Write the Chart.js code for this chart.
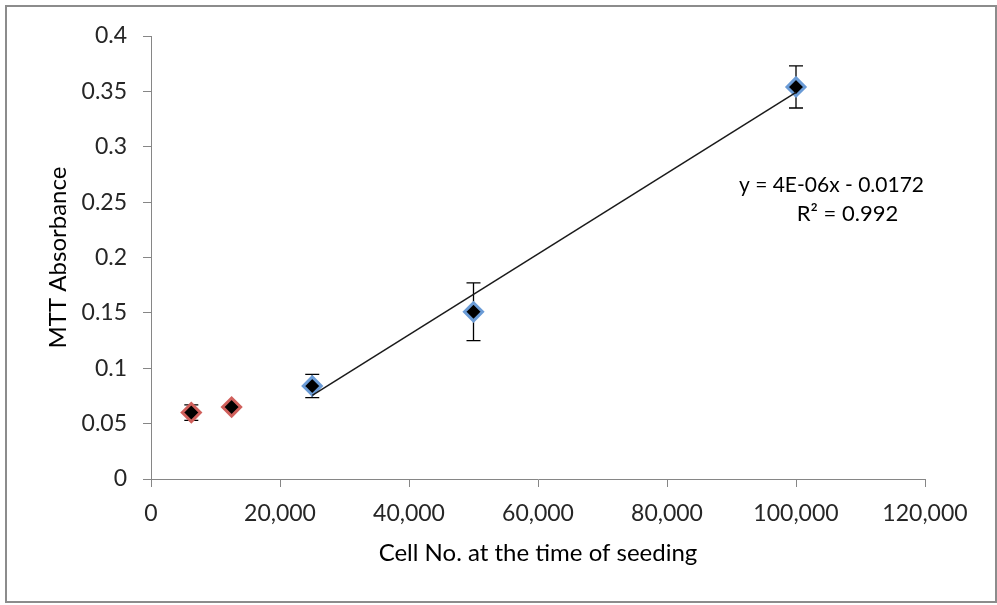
<!DOCTYPE html>
<html>
<head>
<meta charset="utf-8">
<script src="https://cdn.jsdelivr.net/npm/chart.js@4.4.1/dist/chart.umd.min.js"></script>
<style>
  html, body { margin: 0; padding: 0; background: #fff; }
  canvas { display: block; }
</style>
</head>
<body>
<canvas id="c" width="997" height="605"></canvas>
<script>
// ---- data ----
const excludedX = [6250, 12500];
const excludedY = [0.060, 0.065];
const excludedErr = [0.007, 0.002];

const fittedX = [25000, 50000, 100000];
const fittedY = [0.084, 0.151, 0.354];
const fittedErr = [0.0105, 0.026, 0.019];

const trendX = [25000, 100000];
const trendY = [0.0755, 0.349];

const xTickLabels = ['0', '20,000', '40,000', '60,000', '80,000', '100,000', '120,000'];
const yTickLabels = ['0', '0.05', '0.1', '0.15', '0.2', '0.25', '0.3', '0.35', '0.4'];

const equationText = 'y = 4E-06x - 0.0172';
const r2Text = 'R\u00B2 = 0.992';
const xTitle = 'Cell No. at the time of seeding';
const yTitle = 'MTT Absorbance';

function pts(xs, ys) { return xs.map((x, i) => ({ x: x, y: ys[i] })); }

const FONT = 'Lato';
const AXIS = '#868686';

const framePlugin = {
  id: 'frame',
  beforeDraw(chart) {
    const ctx = chart.ctx;
    ctx.save();
    ctx.fillStyle = '#fff';
    ctx.fillRect(0, 0, chart.width, chart.height);
    ctx.strokeStyle = '#8c8c8c';
    ctx.lineWidth = 2;
    ctx.strokeRect(6, 6, 990, 596);
    ctx.restore();
  }
};

const errorBarPlugin = {
  id: 'errorBars',
  beforeDatasetsDraw(chart) {
    const ctx = chart.ctx;
    const xs = chart.scales.x, ys = chart.scales.y;
    ctx.save();
    ctx.strokeStyle = '#000';
    ctx.lineWidth = 1.3;
    chart.data.datasets.forEach(ds => {
      if (!ds.errors) return;
      ds.data.forEach((p, i) => {
        const e = ds.errors[i];
        const px = xs.getPixelForValue(p.x);
        const top = ys.getPixelForValue(p.y + e);
        const bot = ys.getPixelForValue(p.y - e);
        ctx.beginPath();
        ctx.moveTo(px, top); ctx.lineTo(px, bot);
        ctx.moveTo(px - 7, top); ctx.lineTo(px + 7, top);
        ctx.moveTo(px - 7, bot); ctx.lineTo(px + 7, bot);
        ctx.stroke();
      });
    });
    ctx.restore();
  }
};

const equationPlugin = {
  id: 'equation',
  afterDraw(chart) {
    const ctx = chart.ctx;
    const xs = chart.scales.x, ys = chart.scales.y;
    ctx.save();
    ctx.fillStyle = '#000';
    ctx.font = '21px ' + FONT;
    ctx.textAlign = 'center';
    ctx.textBaseline = 'middle';
    const cx = xs.getPixelForValue(105500);
    ctx.fillText(equationText, cx, ys.getPixelForValue(0.2655));
    ctx.font = '22px ' + FONT;
    ctx.fillText(r2Text, cx + 16, ys.getPixelForValue(0.239));
    ctx.restore();
  }
};

new Chart(document.getElementById('c'), {
  type: 'scatter',
  data: {
    datasets: [
      {
        label: 'trend',
        type: 'line',
        data: pts(trendX, trendY),
        borderColor: '#1a1a1a',
        borderWidth: 1.5,
        pointRadius: 0,
        fill: false,
        order: 0
      },
      {
        label: 'fitted',
        data: pts(fittedX, fittedY),
        errors: fittedErr,
        pointStyle: 'rectRot',
        pointRadius: 9,
        pointHoverRadius: 9,
        backgroundColor: '#000',
        borderColor: '#6a9bd6',
        borderWidth: 3,
        order: 1
      },
      {
        label: 'excluded',
        data: pts(excludedX, excludedY),
        errors: excludedErr,
        pointStyle: 'rectRot',
        pointRadius: 9,
        pointHoverRadius: 9,
        backgroundColor: '#000',
        borderColor: '#d0605c',
        borderWidth: 3,
        order: 2
      }
    ]
  },
  options: {
    responsive: false,
    devicePixelRatio: 1,
    animation: false,
    events: [],
    layout: { padding: { left: 0, right: 72, top: 36, bottom: 0 } },
    plugins: {
      legend: { display: false },
      tooltip: { enabled: false },
      title: { display: false }
    },
    scales: {
      x: {
        type: 'linear',
        min: 0, max: 120000,
        afterFit(s) { s.height = 126; },
        afterBuildTicks(s) {
          s.ticks = xTickLabels.map((_, i) => ({ value: i * 20000 }));
        },
        ticks: {
          padding: 13,
          color: '#262626',
          font: { family: FONT, size: 23 },
          maxRotation: 0,
          autoSkip: false,
          callback: (v, i) => xTickLabels[i]
        },
        grid: { display: true, drawOnChartArea: false, drawTicks: true, tickLength: 8, color: AXIS },
        border: { display: true, color: AXIS, width: 1 },
        title: {
          display: true, text: xTitle, color: '#000',
          font: { family: FONT, size: 24 },
          padding: { top: 0, bottom: 37.5 }
        }
      },
      y: {
        type: 'linear',
        min: 0, max: 0.4,
        afterFit(s) { s.width = 151; },
        afterBuildTicks(s) {
          s.ticks = yTickLabels.map((_, i) => ({ value: i * 0.05 }));
        },
        ticks: {
          padding: 16,
          color: '#262626',
          font: { family: FONT, size: 23 },
          autoSkip: false,
          callback: (v, i) => yTickLabels[i]
        },
        grid: { display: true, drawOnChartArea: false, drawTicks: true, tickLength: 8, color: AXIS },
        border: { display: true, color: AXIS, width: 1 },
        title: {
          display: true, text: yTitle, color: '#000',
          font: { family: FONT, size: 24 },
          padding: { top: 43.5, bottom: 0 }
        }
      }
    }
  },
  plugins: [framePlugin, errorBarPlugin, equationPlugin]
});
</script>
</body>
</html>
